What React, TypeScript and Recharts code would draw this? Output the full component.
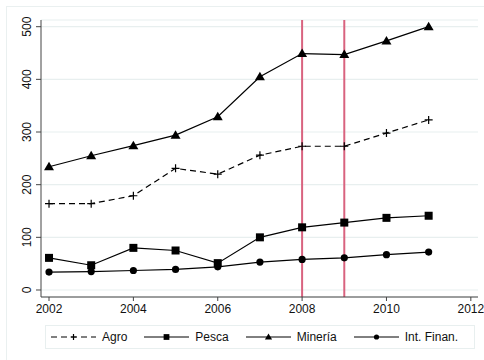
import React from "react";
import {
  LineChart,
  Line,
  XAxis,
  YAxis,
  CartesianGrid,
  ReferenceLine,
  Legend,
} from "recharts";

const years = [2002, 2003, 2004, 2005, 2006, 2007, 2008, 2009, 2010, 2011];
const agro = [164, 164, 179, 231, 220, 256, 273, 273, 298, 323];
const pesca = [61, 47, 80, 75, 51, 100, 119, 128, 137, 141];
const mineria = [234, 255, 274, 294, 329, 405, 449, 447, 473, 500];
const intFinan = [34, 35, 37, 39, 44, 53, 58, 61, 67, 72];

const xTicks = [2002, 2004, 2006, 2008, 2010, 2012];
const yTicks = [0, 100, 200, 300, 400, 500];
const markLines = [2008, 2009];

const data = years.map((year, i) => ({
  year,
  agro: agro[i],
  pesca: pesca[i],
  mineria: mineria[i],
  intFinan: intFinan[i],
}));

const FONT = "'Liberation Sans', Arial, sans-serif";
const INK = "#000";
const AXIS = "#444";
const GRID = "#e8efef";
const MARK = "#d9637f";

type Shape = "plus" | "square" | "triangle" | "circle";

function Marker({ cx, cy, shape, k = 1 }: { cx: number; cy: number; shape: Shape; k?: number }) {
  if (cx == null || cy == null) return null;
  switch (shape) {
    case "plus":
      return (
        <path
          d={`M${cx - 4 * k},${cy}H${cx + 4 * k}M${cx},${cy - 4 * k}V${cy + 4 * k}`}
          stroke={INK}
          strokeWidth={1.2}
        />
      );
    case "square":
      return <rect x={cx - 4 * k} y={cy - 4 * k} width={8 * k} height={8 * k} fill={INK} />;
    case "triangle":
      return (
        <path
          d={`M${cx},${cy - 5 * k}L${cx + 5 * k},${cy + 3.5 * k}L${cx - 5 * k},${cy + 3.5 * k}Z`}
          fill={INK}
        />
      );
    default:
      return <circle cx={cx} cy={cy} r={3.6 * k} fill={INK} />;
  }
}

const series: { key: string; label: string; shape: Shape; dash?: string }[] = [
  { key: "agro", label: "Agro", shape: "plus", dash: "6 4" },
  { key: "pesca", label: "Pesca", shape: "square" },
  { key: "mineria", label: "Minería", shape: "triangle" },
  { key: "intFinan", label: "Int. Finan.", shape: "circle" },
];

function YTick({ x, y, payload }: any) {
  return (
    <g transform={`translate(${x - 3}, ${y}) rotate(-90)`}>
      <text x={0} y={0} textAnchor="middle" fontSize={12} fill="#111" fontFamily={FONT}>
        {payload.value}
      </text>
    </g>
  );
}

function LegendBox() {
  return (
    <div
      style={{
        display: "flex",
        alignItems: "center",
        height: 24,
        border: `1px solid ${GRID}`,
        fontFamily: FONT,
        fontSize: 12,
        color: "#111",
        paddingLeft: 5,
        boxSizing: "border-box",
      }}
    >
      {series.map((s, i) => (
        <div
          key={s.key}
          style={{ display: "flex", alignItems: "center", marginRight: i < 3 ? 17 : 0 }}
        >
          <svg width={45} height={12} style={{ marginRight: 6 }}>
            <line x1={0} y1={6} x2={45} y2={6} stroke={INK} strokeWidth={1} strokeDasharray={s.dash} />
            <Marker cx={22.5} cy={6} shape={s.shape} k={0.72} />
          </svg>
          <span>{s.label}</span>
        </div>
      ))}
    </div>
  );
}

export default function App() {
  return (
    <div style={{ position: "absolute", left: 0, top: 0, width: 484, height: 360, background: "#fff" }}>
      <div
        style={{
          position: "absolute",
          left: 6,
          top: 6,
          width: 490,
          height: 360,
          borderLeft: "1px solid #eaf0f0",
          borderTop: "1px solid #eaf0f0",
        }}
      />
      <LineChart
        width={484}
        height={360}
        data={data}
        margin={{ top: 20, right: 6, bottom: 33, left: 0 }}
        style={{ position: "absolute", left: 0, top: 0 }}
      >
        <CartesianGrid vertical={false} stroke={GRID} strokeWidth={1.2} />
        <XAxis
          dataKey="year"
          type="number"
          domain={[2001.81, 2012.17]}
          ticks={xTicks}
          allowDataOverflow
          height={30}
          tickSize={4}
          tickMargin={3}
          stroke={AXIS}
          tick={{ fill: "#111", fontSize: 12, fontFamily: FONT }}
        />
        <YAxis
          type="number"
          domain={[-13.3, 512.7]}
          ticks={yTicks}
          allowDataOverflow
          width={41}
          tickSize={5}
          stroke={AXIS}
          tick={<YTick />}
        />
        {markLines.map((yr) => (
          <ReferenceLine key={yr} x={yr} stroke={MARK} strokeWidth={2} />
        ))}
        {series.map((s) => (
          <Line
            key={s.key}
            dataKey={s.key}
            name={s.label}
            stroke={INK}
            strokeWidth={1.2}
            strokeDasharray={s.dash}
            isAnimationActive={false}
            dot={(p: any) => <Marker key={`${s.key}-${p.index}`} cx={p.cx} cy={p.cy} shape={s.shape} />}
            activeDot={false}
          />
        ))}
        <Legend
          layout="horizontal"
          verticalAlign="middle"
          align="center"
          wrapperStyle={{ left: 45, top: 325, width: 430 }}
          content={<LegendBox />}
        />
      </LineChart>
    </div>
  );
}
